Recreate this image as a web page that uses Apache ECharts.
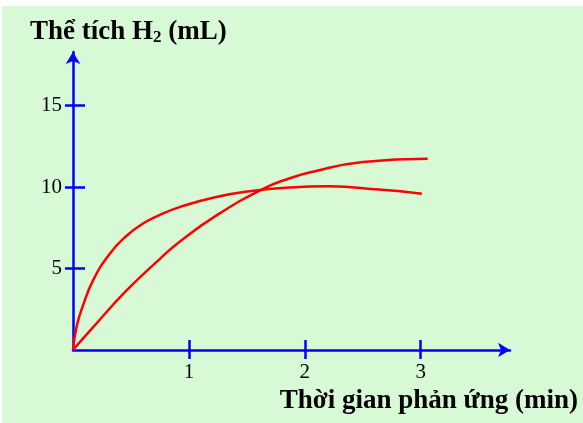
<!DOCTYPE html>
<html><head><meta charset="utf-8">
<script src="https://cdn.jsdelivr.net/npm/echarts@6/dist/echarts.min.js"></script>
<style>
html,body{margin:0;padding:0;background:#ffffff;}
#bg{position:absolute;left:2px;top:6px;width:581px;height:417px;background:#d8f9d6;}
#chart{position:absolute;left:0;top:0;width:583px;height:423px;}
</style></head>
<body><div id="bg"></div><div id="chart"></div>
<script>
// Data
const yTitle = 'Thể tích H';
const yTitleSub = '2';
const yTitleTail = ' (mL)';
const xTitle = 'Thời gian phản ứng (min)';
const xTicks = [1, 2, 3];
const yTicks = [5, 10, 15];
const fastX = [0, 0.03, 0.08, 0.172, 0.316, 0.46, 0.6, 0.75, 0.95, 1.235, 1.52, 1.87, 2.21, 2.64, 3.01];
const fastY = [0, 1.4, 2.6, 4.26, 5.9, 7.0, 7.75, 8.3, 8.85, 9.4, 9.75, 9.98, 10.05, 9.85, 9.6];
const slowX = [0, 0.172, 0.46, 0.75, 0.92, 1.235, 1.64, 1.87, 2.07, 2.5, 3.06];
const slowY = [0, 1.39, 3.64, 5.6, 6.65, 8.25, 9.9, 10.55, 10.95, 11.55, 11.75];

const zip = (xs, ys) => xs.map((x, i) => [x, ys[i]]);
const blue = '#0000ff';
const serif = '"Liberation Serif", "Times New Roman", serif';
const chart = echarts.init(document.getElementById('chart'));
const lineStyle = {color: blue, width: 2.5};
chart.setOption({
  backgroundColor: 'transparent',
  animation: false,
  title: [{
    left: 30, top: 18, padding: 0,
    text: '{a|' + yTitle + '}{s|' + yTitleSub + '}{a|' + yTitleTail + '}',
    textStyle: {rich: {
      a: {fontFamily: serif, fontWeight: 'bold', fontSize: 27, color: '#000'},
      s: {fontFamily: serif, fontWeight: 'bold', fontSize: 17, color: '#000', padding: [11, 0, 0, 0]}
    }}
  }, {
    right: 5, top: 388, padding: 0,
    text: xTitle,
    textStyle: {fontFamily: serif, fontWeight: 'bold', fontSize: 27, color: '#000'}
  }],
  grid: {left: 73, right: 73, top: 52, bottom: 73},
  xAxis: [{
    type: 'value', min: 0, max: 3.77, position: 'bottom',
    axisLine: {show: true, lineStyle, symbol: ['none', 'arrow'], symbolSize: [11, 12], symbolOffset: [0, 0]},
    axisTick: {show: true, inside: false, length: 9, customValues: xTicks, lineStyle},
    axisLabel: {customValues: xTicks, margin: 12, fontFamily: serif, fontSize: 21, color: '#000'},
    splitLine: {show: false}
  }, {
    type: 'value', min: 0, max: 3.77, position: 'bottom',
    axisLine: {show: false},
    axisTick: {show: true, inside: true, length: 10, customValues: xTicks, lineStyle},
    axisLabel: {show: false},
    splitLine: {show: false}
  }],
  yAxis: [{
    type: 'value', min: 0, max: 18.3, position: 'left',
    axisLine: {show: true, lineStyle, symbol: ['none', 'arrow'], symbolSize: [11, 12], symbolOffset: [0, 0]},
    axisTick: {show: true, inside: false, length: 8, customValues: yTicks, lineStyle},
    axisLabel: {customValues: yTicks, margin: 11, fontFamily: serif, fontSize: 21, color: '#000'},
    splitLine: {show: false}
  }, {
    type: 'value', min: 0, max: 18.3, position: 'left',
    axisLine: {show: false},
    axisTick: {show: true, inside: true, length: 12, customValues: yTicks, lineStyle},
    axisLabel: {show: false},
    splitLine: {show: false}
  }],
  series: [{
    type: 'line', data: zip(fastX, fastY), smooth: 0.5, showSymbol: false,
    lineStyle: {color: '#ff0000', width: 2.5}
  }, {
    type: 'line', data: zip(slowX, slowY), smooth: 0.5, showSymbol: false,
    lineStyle: {color: '#ff0000', width: 2.5}
  }]
});
</script></body></html>
